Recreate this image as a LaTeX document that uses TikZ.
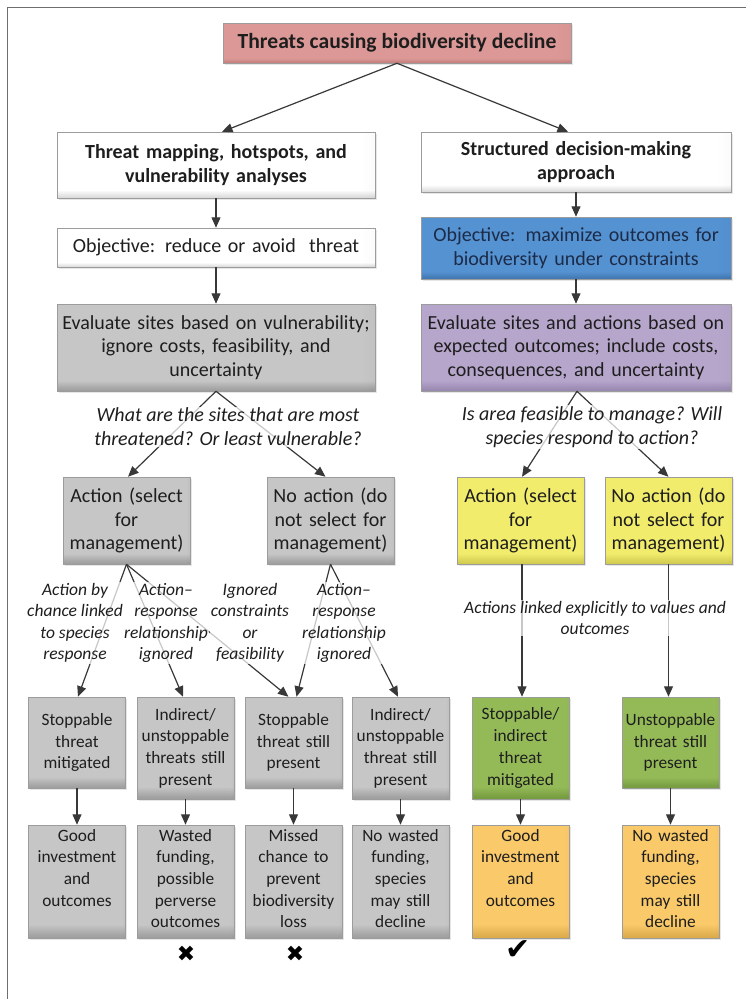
\documentclass[tikz,border=0pt]{standalone}
\usepackage{fontspec}
\setmainfont{Carlito}
\newfontfamily\symfont{DejaVu Sans}
\usetikzlibrary{arrows.meta,shadows,calc}
\definecolor{frameC}{HTML}{6E6E6E}
\definecolor{txt}{HTML}{1E1E1E}
\definecolor{navyT}{HTML}{1C2B47}
\definecolor{lineC}{HTML}{383838}
\definecolor{pinkA}{HTML}{DB9896}
\definecolor{pinkB}{HTML}{C07A78}
\definecolor{whiteB}{HTML}{D2D2D2}
\definecolor{grayA}{HTML}{C6C6C6}
\definecolor{grayB}{HTML}{969696}
\definecolor{blueA}{HTML}{5592D2}
\definecolor{blueB}{HTML}{3D72AA}
\definecolor{purA}{HTML}{B6A6CC}
\definecolor{purB}{HTML}{9282AA}
\definecolor{yelA}{HTML}{F1EC6C}
\definecolor{yelB}{HTML}{C9C34A}
\definecolor{grnA}{HTML}{94BA58}
\definecolor{grnB}{HTML}{6E953A}
\definecolor{orA}{HTML}{F9C96A}
\definecolor{orB}{HTML}{D6A444}
\definecolor{edgeC}{HTML}{9C9C9C}
\colorlet{bevA}{white}
\colorlet{bevB}{gray}
\pgfdeclareverticalshading[bevA,bevB]{bevshade}{100bp}{color(0bp)=(bevB); color(25bp)=(bevB); color(26.5bp)=(bevB!80!bevA); color(31bp)=(bevA); color(100bp)=(bevA)}
\pgfdeclarehorizontalshading[bevA,bevB]{bevside}{100bp}{color(0bp)=(bevA); color(73bp)=(bevA); color(75bp)=(bevB!60!bevA); color(100bp)=(bevB!60!bevA)}
\tikzset{
  bevel/.style 2 args={fill=#1, path picture={
     \colorlet{bevA}{#1}\colorlet{bevB}{#2}
     \shade[shading=bevside] (path picture bounding box.south west) rectangle (path picture bounding box.north east);
     \shade[shading=bevshade, opacity=0.85] (path picture bounding box.south west) rectangle (path picture bounding box.north east);
  }},
  boxbase/.style={rectangle, inner sep=0pt, align=center, text=txt, draw=edgeC, line width=0.5pt,
     drop shadow={shadow xshift=1.5pt, shadow yshift=-1.5pt, opacity=0.2}},
  bigtxt/.style={font=\fontsize{20}{23.5}\selectfont},
  boldtxt/.style={font=\bfseries\fontsize{20}{23.5}\selectfont},
  smalltxt/.style={font=\fontsize{17.3}{21.7}\selectfont},
  wide/.style={boxbase, minimum width=318pt, text width=310pt},
  wideR/.style={boxbase, minimum width=310pt, text width=302pt},
  actbox/.style={boxbase, bigtxt, minimum width=127pt, minimum height=87pt, text width=124pt},
  botbox/.style={boxbase, smalltxt, minimum width=97pt, text width=96pt},
  conn/.style={draw=lineC, line width=1.2pt, -{Triangle[length=10.5pt,width=9pt]}},
  lab/.style={font=\itshape\fontsize{17.5}{21.5}\selectfont, align=center, text=txt,
     fill=white, fill opacity=0.72, text opacity=1, inner sep=1pt},
  qlab/.style={lab, font=\itshape\fontsize{20}{24}\selectfont},
  verdict/.style={text=black, inner sep=0pt}
}
\newcommand\outtext[1]{\begin{minipage}[t][113pt][t]{96pt}\centering\vspace{4pt}#1\end{minipage}}
\begin{document}
\begin{tikzpicture}[x=1pt,y=-1pt]
\useasboundingbox (0,0) rectangle (746,999);
\draw[frameC, line width=1.8pt] (7.5,999) -- (7.5,7.5) -- (746,7.5);

% top level
\node[boxbase, bevel={pinkA}{pinkB}, minimum width=348pt, minimum height=40pt,
      font=\bfseries\fontsize{21.6}{24}\selectfont] (title) at (397,43) {Threats causing biodiversity decline};
\node[wide, boldtxt, bevel={white}{whiteB}, minimum height=66pt] (L1) at (216,165)
  {Threat mapping, hotspots, and\\ vulnerability analyses};
\node[wideR, boldtxt, bevel={white}{whiteB}, minimum height=60pt] (R1) at (576,162)
  {Structured decision-making\\ approach};
\node[wide, bigtxt, bevel={white}{whiteB}, minimum height=39pt] (L2) at (216,247.5)
  {Objective: reduce or avoid\ \ threat};
\node[wideR, bigtxt, bevel={blueA}{blueB}, minimum height=62pt, text=navyT] (R2) at (576,248)
  {Objective: maximize outcomes for\\ biodiversity under constraints};
\node[wide, bigtxt, bevel={grayA}{grayB}, minimum height=87pt] (L3) at (216,347.5)
  {Evaluate sites based on vulnerability;\\ ignore costs, feasibility, and\\ uncertainty};
\node[wideR, bigtxt, bevel={purA}{purB}, minimum height=87pt] (R3) at (576,347.5)
  {Evaluate sites and actions based on\\ expected outcomes; include costs,\\ consequences, and uncertainty};

% action boxes
\node[actbox, bevel={grayA}{grayB}] (A1) at (126.5,520.5) {Action (select\\ for\\ management)};
\node[actbox, bevel={grayA}{grayB}] (A2) at (330.5,520.5) {No action (do\\ not select for\\ management)};
\node[actbox, bevel={yelA}{yelB}] (A3) at (520.5,520.5) {Action (select\\ for\\ management)};
\node[actbox, bevel={yelA}{yelB}] (A4) at (668.5,520.5) {No action (do\\ not select for\\ management)};

% consequence boxes
\node[botbox, bevel={grayA}{grayB}, minimum height=91pt] (B1) at (77,742.5) {Stoppable\\ threat\\ mitigated};
\node[botbox, bevel={grayA}{grayB}, minimum height=102pt] (B2) at (185.5,748) {Indirect/\\ unstoppable\\ threats still\\ present};
\node[botbox, bevel={grayA}{grayB}, minimum height=91pt] (B3) at (293.5,742.5) {Stoppable\\ threat still\\ present};
\node[botbox, bevel={grayA}{grayB}, minimum height=102pt] (B4) at (400.5,748) {Indirect/\\ unstoppable\\ threat still\\ present};
\node[botbox, bevel={grnA}{grnB}, minimum height=102pt] (G1) at (520.5,748) {Stoppable/\\ indirect\\ threat\\ mitigated};
\node[botbox, bevel={grnA}{grnB}, minimum height=91pt] (G2) at (670.5,742.5) {Unstoppable\\ threat still\\ present};

% outcome boxes
\node[botbox, bevel={grayA}{grayB}] (O1) at (77,881.5) {\outtext{Good\\ investment\\ and\\ outcomes}};
\node[botbox, bevel={grayA}{grayB}] (O2) at (185.5,881.5) {\outtext{Wasted\\ funding,\\ possible\\ perverse\\ outcomes}};
\node[botbox, bevel={grayA}{grayB}] (O3) at (293.5,881.5) {\outtext{Missed\\ chance to\\ prevent\\ biodiversity\\ loss}};
\node[botbox, bevel={grayA}{grayB}] (O4) at (400.5,881.5) {\outtext{No wasted\\ funding,\\ species\\ may still\\ decline}};
\node[botbox, bevel={orA}{orB}] (Y1) at (520.5,881.5) {\outtext{Good\\ investment\\ and\\ outcomes}};
\node[botbox, bevel={orA}{orB}] (Y2) at (670.5,881.5) {\outtext{No wasted\\ funding,\\ species\\ may still\\ decline}};

% connectors
\draw[conn] (title.south) -- ([xshift=6pt]L1.north);
\draw[conn] (title.south) -- ([xshift=-8pt]R1.north);
\draw[conn] (L1) -- (L2);
\draw[conn] (R1) -- (R2);
\draw[conn] (L2) -- (L3);
\draw[conn] (R2) -- (R3);
\draw[conn] (L3.south) -- ([xshift=1.5pt]A1.north);
\draw[conn] (L3.south) -- ([xshift=-5pt]A2.north);
\draw[conn] ([xshift=1pt]R3.south) -- ([xshift=1.5pt]A3.north);
\draw[conn] ([xshift=1pt]R3.south) -- (A4.north);
\draw[conn] (A1.south) -- ([xshift=1pt]B1.north);
\draw[conn] (A1.south) -- ([xshift=-2.5pt]B2.north);
\draw[conn] (A1.south) -- ([xshift=-5pt]B3.north);
\draw[conn] (A2.south) -- ([xshift=3pt]B3.north);
\draw[conn] (A2.south) -- ([xshift=-2.5pt]B4.north);
\draw[conn] ([xshift=1.5pt]A3.south) -- ([xshift=1.5pt]A3.south |- G1.north);
\draw[conn] (A4.south) -- (A4.south |- G2.north);
\draw[conn] (B1) -- (O1);
\draw[conn] (B2) -- (O2);
\draw[conn] (B3) -- (O3);
\draw[conn] (B4) -- (O4);
\draw[conn] (G1) -- (Y1);
\draw[conn] (G2) -- (Y2);

% labels
\node[qlab] (qL) at (228,427) {What are the sites that are most\\ threatened? Or least vulnerable?};
\node[qlab] (qR) at (592,427) {Is area feasible to manage? Will\\ species respond to action?};
\node[lab] (l1) at (75,623) {Action by\\ chance linked\\ to species\\ response};
\node[lab] (l2) at (166,623) {Action–\\ response\\ relationship\\ ignored};
\node[lab] (l3) at (250,623) {Ignored\\ constraints\\ or\\ feasibility};
\node[lab] (l4) at (344,623) {Action–\\ response\\ relationship\\ ignored};
\node[lab] (l5) at (595,618) {Actions linked explicitly to values and\\ outcomes};

% marks
\node[verdict, font=\symfont\fontsize{22}{22}\selectfont] (m1) at (186,954) {✖};
\node[verdict, font=\symfont\fontsize{22}{22}\selectfont] (m2) at (295,954) {✖};
\node[verdict, font=\symfont\fontsize{30}{30}\selectfont] (m3) at (518,950) {✔};
\end{tikzpicture}
\end{document}
